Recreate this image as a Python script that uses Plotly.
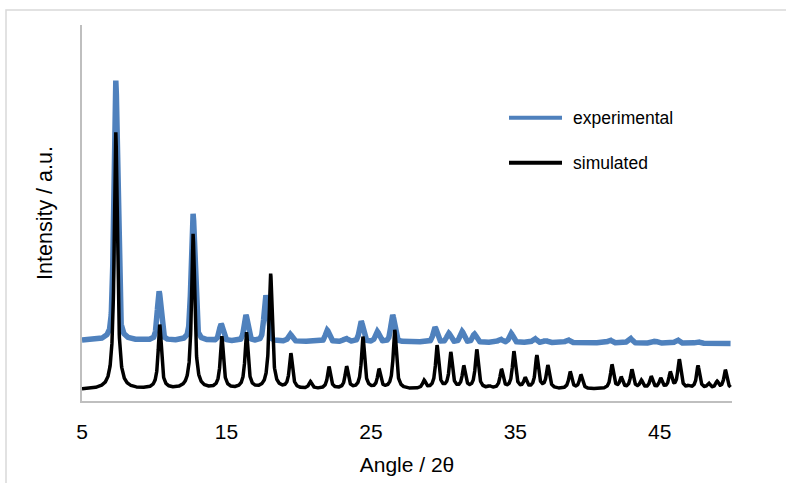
import numpy as np
import plotly.graph_objects as go

# ---- data (angle in degrees 2-theta, intensity in a.u.) ----
sim_pos = [7.34, 10.38, 12.69, 14.68, 16.39, 18.06, 19.46, 20.81, 22.10, 23.32,
           24.45, 25.56, 26.65, 28.68, 29.58, 30.53, 31.43, 32.33, 33.21, 34.04,
           34.90, 35.68, 36.49, 37.25, 38.80, 39.54, 41.69, 42.33, 43.07, 43.72,
           44.41, 45.06, 45.73, 46.35, 47.00, 47.65, 48.38, 48.96, 49.54]
sim_int = [257, 64, 155, 52, 56, 115, 35, 7, 22, 22,
           52, 19, 59, 8, 43, 36, 22, 39, 2, 19,
           37, 10, 33, 23, 17, 14, 24, 11, 19, 8,
           12, 10, 16, 29, 2, 23, 5, 7, 19]

exp_pos = [7.34, 10.34, 12.69, 14.63, 16.35, 17.73, 19.41, 21.98, 23.25, 24.33,
           25.44, 26.51, 29.44, 30.39, 31.31, 32.17, 33.95, 34.71, 36.32, 37.10,
           38.62, 41.53, 42.93, 44.70, 46.20, 47.60]
exp_int = [260, 49, 127, 16.6, 25.8, 45.8, 7, 11.4, 3.2, 20.3,
           10, 26.7, 14.6, 8.7, 10.5, 8.1, 3.2, 9, 4.1, 2,
           3, 3, 5, 2, 3.5, 2]
exp_background = [49.0, 46.0]   # level at start / end of the scan
scan_range = [5.0, 49.9]

x_ticks = [5, 15, 25, 35, 45]
series_names = ["experimental", "simulated"]
x_title = "Angle / 2θ"
y_title = "Intensity / a.u."

# ---- build profiles from the peak lists ----
tt = np.round(np.arange(scan_range[0], scan_range[1] + 1e-9, 0.01), 2)

sim_w = 0.25
sim_y = np.zeros_like(tt)
for p, h in zip(sim_pos, sim_int):
    sim_y += h / (1 + (2 * (tt - p) / sim_w) ** 2)

exp_w = 0.30
eta = 0.4
exp_y = exp_background[0] + (exp_background[1] - exp_background[0]) * (tt - tt[0]) / (tt[-1] - tt[0])
for p, h in zip(exp_pos, exp_int):
    d = tt - p
    lor = 1 / (1 + (2 * d / exp_w) ** 2)
    gau = np.exp(-4 * np.log(2) * (d / exp_w) ** 2)
    exp_y = exp_y + h * (eta * lor + (1 - eta) * gau)

BLUE = "#4F81BD"
FONT = "Liberation Sans, Arial, sans-serif"

fig = go.Figure()
fig.add_trace(go.Scatter(x=tt, y=exp_y, mode="lines", name=series_names[0],
                         line=dict(color=BLUE, width=5.5), showlegend=False))
fig.add_trace(go.Scatter(x=tt, y=sim_y, mode="lines", name=series_names[1],
                         line=dict(color="black", width=3.5), showlegend=False))

L, R, T, B = 82, 54, 25, 82
W, H = 786, 483
pw, ph = W - L - R, H - T - B

def px_x(px):
    return (px - L) / pw

def px_y(py):
    return (H - B - py) / ph

# manual legend (long line samples as in reference)
legend_rows = [(series_names[0], BLUE, 117.7), (series_names[1], "black", 162.7)]
shapes = []
annotations = []
for name, col, py in legend_rows:
    shapes.append(dict(type="line", xref="paper", yref="paper",
                       x0=px_x(509), x1=px_x(562), y0=px_y(py), y1=px_y(py),
                       line=dict(color=col, width=4)))
    annotations.append(dict(text=name, xref="paper", yref="paper",
                            x=px_x(571), y=px_y(py), xanchor="left", yanchor="middle",
                            showarrow=False, font=dict(family=FONT, size=17.5, color="black")))

# outer chart-area frame
shapes.append(dict(type="rect", xref="paper", yref="paper",
                   x0=px_x(6), x1=px_x(W + 20), y0=px_y(H + 20), y1=px_y(10),
                   line=dict(color="#D9D9D9", width=1.5), fillcolor="rgba(0,0,0,0)",
                   layer="below"))

fig.update_layout(
    width=W, height=H,
    margin=dict(l=L, r=R, t=T, b=B, pad=0),
    paper_bgcolor="white", plot_bgcolor="white",
    shapes=shapes, annotations=annotations,
    font=dict(family=FONT, color="black"),
    xaxis=dict(range=[5, 50], tickvals=x_ticks, ticktext=[str(v) for v in x_ticks],
               showgrid=False, zeroline=False, showline=True, linecolor="#BFBFBF",
               linewidth=1.5, ticks="", tickfont=dict(family=FONT, size=21, color="black"),
               ticklabelstandoff=11, automargin=False,
               title=dict(text=x_title, font=dict(family=FONT, size=21, color="black"), standoff=15)),
    yaxis=dict(range=[-11.5, 364.5], showticklabels=False, showgrid=False, zeroline=False,
               showline=True, linecolor="#BFBFBF", linewidth=1.5, ticks="", automargin=False,
               title=dict(text=y_title, font=dict(family=FONT, size=21.5, color="black"), standoff=22)),
)

fig.write_html("out.html")
